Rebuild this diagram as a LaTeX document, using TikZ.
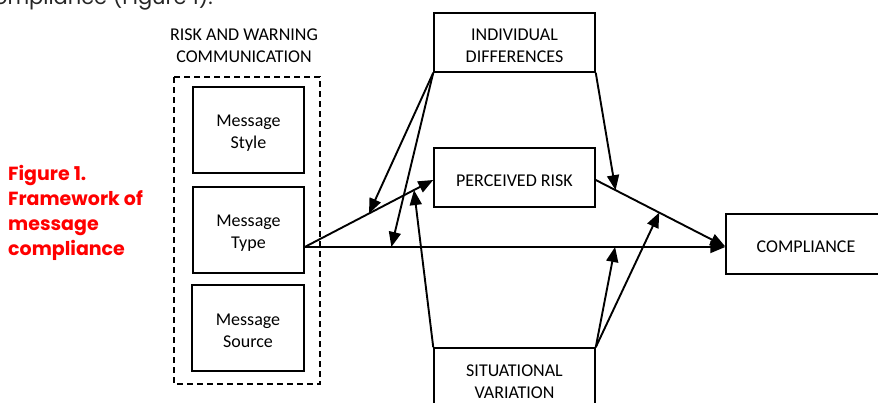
\documentclass[tikz,border=0pt]{standalone}
\usepackage{fontspec}
\setmainfont{Carlito}
\newfontfamily\gothic{Poppins}
\usetikzlibrary{arrows.meta,calc}
\newcommand{\mystrut}{\rule{0pt}{17.5pt}}
\begin{document}
\begin{tikzpicture}[x=1pt,y=-1pt,
  box/.style={draw,line width=1.5pt,rectangle,align=center,inner sep=0pt,
    font=\fontsize{18}{22}\selectfont},
  conn/.style={line width=1.9pt},
  arr/.style={conn,-{Triangle[length=15pt,width=12pt]}},
  lab/.style={align=center,font=\fontsize{18}{22}\selectfont}]
\useasboundingbox (0,0) rectangle (878,403);
% surrounding text, cut off at the top
\node[anchor=base east,font=\gothic\fontsize{21}{24}\selectfont,text=black!85,inner sep=0pt]
  (toptext) at (213,5) {compliance (Figure 1).};
% caption
\node[anchor=north west,align=left,inner sep=0pt,text=red,
  font=\gothic\bfseries\fontsize{19}{25}\selectfont] (cap) at (8,165)
  {Figure 1.\\Framework of\\message\\compliance};
% group
\node[lab] (grp) at (244,46) {RISK AND WARNING\\COMMUNICATION};
\draw[line width=1.5pt,dash pattern=on 6pt off 4pt] (174,77) rectangle (320,384);
\node[box,minimum width=111pt,minimum height=86pt] (ms) at (248.5,130) {\mystrut Message\\Style};
\node[box,minimum width=111pt,minimum height=86pt] (mt) at (248.5,230) {\mystrut Message\\Type};
\node[box,minimum width=112pt,minimum height=86pt] (msrc) at (248,328) {\mystrut Message\\Source};
\node[box,minimum width=161pt,minimum height=59pt] (id) at (514.5,42.5) {\mystrut INDIVIDUAL\\DIFFERENCES};
\node[box,minimum width=161pt,minimum height=59pt] (pr) at (514.5,177.5) {\mystrut PERCEIVED RISK};
\node[box,minimum width=161pt,minimum height=67pt] (sv) at (514.5,381.5) {SITUATIONAL\\VARIATION};
\node[box,minimum width=160pt,minimum height=60pt] (comp) at (806,244) {\mystrut COMPLIANCE};
% anchor points of the main paths
\coordinate (mtout) at ([yshift=-17pt]mt.east);
\coordinate (prin) at ([yshift=-2.5pt]pr.west);
\coordinate (prout) at ([yshift=-2.5pt]pr.east);
\coordinate (compin) at ([yshift=-2.5pt]comp.west);
% main paths
\draw[arr] (mtout) -- (prin);
\draw[arr] (mtout) -- (mtout -| comp.west);
\draw[arr] (prout) -- (compin);
% moderators
\draw[arr] (id.south west) -- ($(mtout)!0.5!(prin)$);
\draw[arr] (id.south west) -- ($(mtout)!0.206!(mtout -| comp.west)$);
\draw[arr] (id.south east) -- ($(prout)!0.153!(compin)$);
\draw[arr] (sv.north west) -- ($(mtout)!0.85!(prin)$);
\draw[arr] (sv.north east) -- ($(mtout)!0.738!(mtout -| comp.west)$);
\draw[arr] (sv.north east) -- ($(prout)!0.49!(compin)$);
\end{tikzpicture}
\end{document}
